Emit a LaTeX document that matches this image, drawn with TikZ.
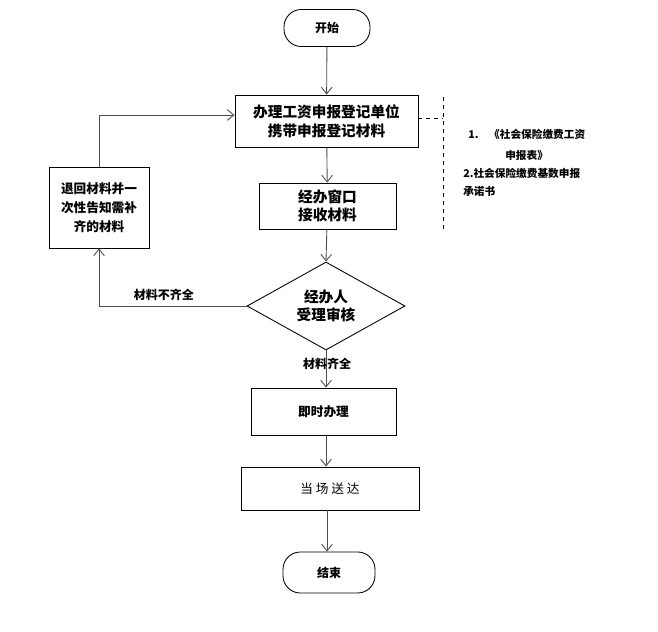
\documentclass[tikz,border=0pt]{standalone}
\usepackage{fontspec}
\setmainfont{Noto Sans CJK SC}
\usetikzlibrary{shapes.geometric, arrows.meta}

\tikzset{
    box/.style={draw, line width=0.65pt, align=center, font=\bfseries\fontsize{11}{14}\selectfont},
    endbox/.style={box, rounded corners=13pt},
    flow/.style={->, >={Straight Barb[length=5pt,width=8pt]}, draw=black!70, line width=0.65pt},
    note/.style={anchor=west, inner sep=0pt, font=\bfseries\fontsize{8}{9}\selectfont}
}

\begin{document}
\begin{tikzpicture}[x=0.75pt, y=-0.75pt]
                \useasboundingbox (0,0) rectangle (658,632);
                % Steps:
                \node[endbox, minimum width=64.5pt, minimum height=27.75pt, font=\bfseries\fontsize{9}{11}\selectfont] (start) at (327,28) {开始};
                \node[box, minimum width=137.25pt, minimum height=39pt] (apply) at (326.5,121) {办理工资申报登记单位\\携带申报登记材料};
                \node[box, minimum width=102.75pt, minimum height=34.5pt] (window) at (327.5,206) {经办窗口\\接收材料};
                \node[box, shape=diamond, aspect=1.8, inner sep=0pt, minimum width=118.5pt, minimum height=66pt] (check) at (326,306) {经办人\\受理审核};
                \node[box, minimum width=75pt, minimum height=60.75pt, font=\bfseries\fontsize{9.5}{14}\selectfont] (back) at (99,207.5) {退回材料并一\\次性告知需补\\齐的材料};
                \node[box, minimum width=108.75pt, minimum height=35.25pt, font=\bfseries\fontsize{9.5}{12}\selectfont] (handle) at (323.5,411.5) {即时办理};
                \node[box, minimum width=133.5pt, minimum height=32.25pt, font=\fontsize{9.5}{12}\selectfont] (send) at (330,488.5) {当\ 场\ 送\ 达};
                \node[endbox, minimum width=69pt, minimum height=30.75pt, font=\bfseries\fontsize{9}{11}\selectfont] (stop) at (329,572.5) {结束};

                % Arrows:
                \draw[flow] (start) -- (apply);
                \draw[flow] (apply) -- (window);
                \draw[flow] (window) -- (check.north);
                \draw[flow] (check.south) -- (handle.north -| check.south);
                \draw[flow] (handle.south -| 326,0) -- (send.north -| 326,0);
                \draw[flow] (send.south -| 327,0) -- (stop.north -| 327,0);
                \draw[flow] (check.west) -| node[pos=0.28, above, font=\bfseries\fontsize{9}{11}\selectfont] {材料不齐全} (back.south);
                \draw[flow] (back.north) |- (apply.west |- 0,115);
                \node[font=\bfseries\fontsize{9}{11}\selectfont] (ok) at (327,364) {材料齐全};

                % Notes:
                \coordinate (tap) at (443,118);
                \coordinate (top) at (443,97);
                \coordinate (bot) at (443,230);
                \draw[dashed] (apply.east |- tap) -- (tap);
                \draw[dashed] (top) -- (bot);
                \node[note] (n1) at (468,134) {1.\quad 《社会保险缴费工资};
                \node[note] (n2) at (505,155) {申报表》};
                \node[note] (n3) at (463,173) {2.社会保险缴费基数申报};
                \node[note] (n4) at (463,191) {承诺书};
\end{tikzpicture}
\end{document}
